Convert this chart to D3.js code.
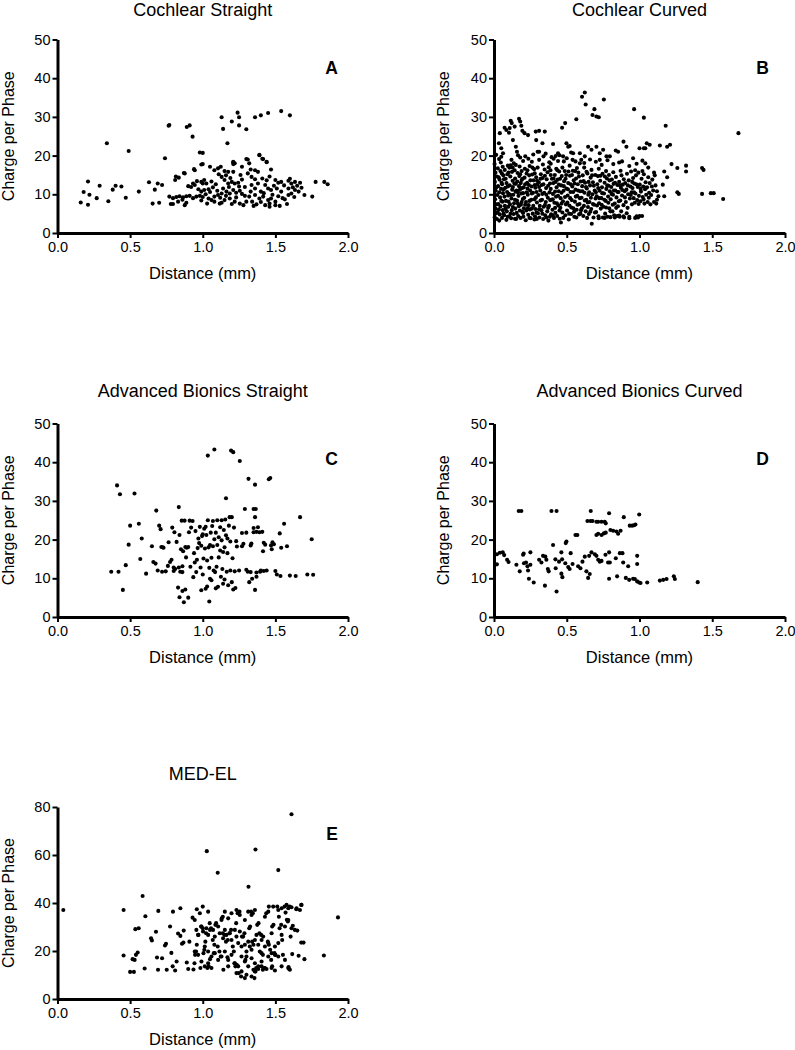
<!DOCTYPE html>
<html><head><meta charset="utf-8">
<script src="https://cdn.jsdelivr.net/npm/d3@7"></script>
<style>
html,body{margin:0;padding:0;background:#fff;}
svg text{font-family:"Liberation Sans",Arial,sans-serif;fill:#000;}
</style></head>
<body>
<svg id="chart" width="795" height="1050"></svg>
<script>
// ---------------- DATA ----------------
const xTickValues = [0, 0.5, 1.0, 1.5, 2.0];
const yTicks50 = [0, 10, 20, 30, 40, 50];
const yTicks80 = [0, 20, 40, 60, 80];
const titles = ["Cochlear Straight", "Cochlear Curved", "Advanced Bionics Straight", "Advanced Bionics Curved", "MED-EL"];
const letters = ["A", "B", "C", "D", "E"];
const xLabel = "Distance (mm)";
const yLabel = "Charge per Phase";

const pointsA = [
[0.34,23.2],[0.49,21.2],[0.74,19.3],[0.765,27.7],[0.77,27.9],[0.89,27.4],[0.91,27.8],[0.93,24.9],[0.98,20.8],[1.0,17.8],[1.13,29.9],[1.14,26.9],[1.17,23.2],[1.2,28.8],[1.24,31.1],[1.25,29.9],[1.25,27.8],[1.30,26.8],[1.36,29.9],[1.40,30.4],[1.45,31.0],[1.54,31.5],[1.60,30.4],[1.30,19.1],[1.39,20.2],[1.41,19.2],[1.44,18.3],[1.21,18.2],[1.21,17.8],
[0.16,7.9],[0.18,10.6],[0.21,7.3],[0.21,13.3],[0.22,9.9],[0.27,9.0],[0.29,12.2],[0.35,8.2],[0.38,11.2],[0.40,12.2],[0.44,12.0],[0.47,9.1],[0.56,10.7],[0.63,13.1],[0.655,7.6],[0.67,11.2],[0.69,12.8],[0.70,7.8],[0.72,12.4],[0.815,14.6],[0.87,15.5],[0.94,16.5],
[0.77,9.4],[0.78,7.5],[0.795,9.0],[0.818,9.3],[0.84,9.5],[0.864,9.2],[0.887,9.5],[0.91,9.6],[0.933,9.0],[0.956,9.4],[0.98,9.6],[1.0,9.3],[0.81,13.7],[0.835,14.3],[0.876,15.4],[0.795,7.5],[0.876,7.2],[0.887,7.8],[0.92,11.9],[0.945,12.4],[0.933,12.8],[0.945,16.2],[0.99,17.7],[1.0,20.7],[0.99,13.2],[1.01,13.7],[1.025,12.8],[1.0,12.8],[0.99,10.7],[1.01,11.1],[1.04,11.3],[1.04,8.9],[1.06,8.5],[1.08,9.4],[1.105,9.8],[1.13,10.2],[1.05,17.1],[1.08,16.2],[1.105,16.7],[1.124,17.1],[1.15,16.0],[1.175,15.8],[1.13,14.5],[1.15,13.7],[1.175,12.8],[1.2,13.2],[1.22,12.8],[1.244,13.0],[1.14,11.5],[1.163,10.7],[1.186,10.2],[1.21,11.1],[1.23,10.4],[1.255,10.9],[1.08,8.1],[1.117,7.6],[1.15,8.5],[1.186,8.9],[1.22,8.1],[1.255,7.6],[1.28,7.2],[1.30,8.1],[1.21,18.4],[1.22,18.0],[1.27,17.1],[1.31,19.0],[1.32,18.0],[1.39,20.1],[1.416,19.1],[1.44,18.4],[1.47,16.4],[1.31,15.4],[1.336,14.5],[1.36,16.2],[1.38,15.8],[1.336,12.4],[1.36,11.5],[1.38,12.8],[1.40,10.7],[1.43,12.4],[1.45,11.5],[1.47,11.1],[1.32,9.4],[1.36,9.8],[1.39,8.9],[1.416,9.4],[1.45,8.5],[1.47,8.9],[1.5,8.1],[1.53,7.0],[1.43,7.2],[1.46,6.8],[1.5,7.2],[1.5,13.7],[1.52,13.0],[1.54,13.2],[1.59,13.5],[1.61,12.8],[1.635,13.2],[1.67,13.0],[1.51,11.5],[1.54,10.7],[1.59,11.5],[1.61,10.2],[1.635,11.1],[1.565,8.7],[1.59,9.8],[1.66,10.7],[1.70,9.8],[1.754,9.4],[1.777,13.2],[1.837,13.2],[1.86,12.6],
[1.02,10.0],[1.05,10.6],[1.07,11.8],[1.09,12.6],[1.1,10.9],[1.12,9.1],[1.16,9.6],[1.18,11.9],[1.19,14.2],[1.23,9.2],[1.25,12.0],[1.27,10.1],[1.27,13.8],[1.29,9.6],[1.29,11.9],[1.33,10.7],[1.34,8.1],[1.37,7.4],[1.4,8.0],[1.42,10.3],[1.44,13.6],[1.48,9.9],[1.49,12.2],[1.52,9.5],[1.56,12.3],[1.58,7.5],[1.6,14.0],[1.62,11.8],[1.65,12.2],[1.68,11.7],[0.96,13.4],[0.97,11.3],[0.9,12.1],[0.86,8.6],[0.83,8.1],[1.06,13.3],[1.11,15.2],[1.16,14.9],[1.21,15.8],[1.26,15.0],[1.33,16.4],[1.36,13.9],[1.41,14.1],[1.46,14.6],[1.2,7.5],[1.13,7.8],[1.03,7.6],[0.99,8.4],[1.35,7.0],[1.46,7.6],[1.55,9.0],[1.63,9.3]
];

const pointsB = [
// sparse upper points
[0.605,35.2],[0.624,36.3],[0.63,33.2],[0.755,34.5],[0.69,32.0],[0.677,30.5],[0.704,30.1],[0.72,29.9],[0.566,29.4],[0.468,27.2],[0.489,28.4],[0.963,32.0],[1.03,29.8],[1.18,27.7],[1.68,25.8],[1.14,22.6],[1.19,22.3],[1.21,22.8],[1.22,17.8],[1.26,16.8],[1.32,17.4],[1.32,15.9],[1.43,16.8],[1.44,16.3],[1.43,10.1],[1.49,10.3],[1.51,10.3],[1.575,8.8],[1.26,10.5],[1.27,10.1],[1.07,22.8],[1.05,23.2],[1.0,21.9],[1.03,21.9],[1.04,21.9],[1.04,18.0],[0.956,19.3],[0.91,22.3],[0.89,23.6],[0.837,21.3],[0.853,21.0],[0.86,18.2],[1.17,15.9],[1.19,14.4],[1.16,12.5],[1.13,9.5],[1.12,8.6],[1.17,9.5],
[0.04,25.8],[0.034,23.2],[0.05,21.9],[0.062,20.6],[0.073,27.2],[0.085,26.6],[0.108,27.1],[0.115,29.0],[0.122,28.4],[0.142,27.5],[0.103,25.9],[0.172,29.5],[0.18,28.8],[0.188,27.7],[0.195,26.4],[0.21,25.8],[0.234,25.3],[0.13,24.0],[0.15,22.3],[0.158,21.0],[0.287,26.2],[0.31,26.4],[0.349,26.2],[0.29,24.0],[0.333,23.2],[0.31,21.0],[0.406,23.0],[0.424,19.9],[0.44,20.6],[0.475,19.8],[0.51,22.3],[0.544,20.6],[0.59,20.6],[0.498,23.2],[0.52,22.5],[0.647,22.3],[0.67,21.5],[0.704,22.3],[0.727,20.6],[0.75,21.5],[0.773,19.8],[0.796,19.8],[0.727,18.9],[0.6,18.9],[0.624,19.8],[0.59,18.0],
// dense body
[0.005,4.1],[0.01,6.3],[0.008,8.7],[0.012,10.9],[0.006,13.2],[0.01,15.6],[0.004,17.8],[0.02,3.6],[0.025,5.4],[0.03,7.5],[0.022,9.8],[0.028,12.1],[0.032,14.4],[0.026,16.7],[0.035,19.1],[0.04,4.8],[0.045,6.9],[0.042,9.2],[0.048,11.4],[0.038,13.8],[0.044,16.0],[0.047,18.2],
[0.055,3.9],[0.06,5.9],[0.058,8.1],[0.062,10.3],[0.056,12.6],[0.064,14.9],[0.06,17.1],[0.07,4.6],[0.075,7.0],[0.072,9.4],[0.078,11.7],[0.068,13.9],[0.074,16.3],[0.085,3.4],[0.088,5.6],[0.082,8.3],[0.09,10.6],[0.086,12.9],[0.092,15.2],[0.095,17.4],[0.098,6.8],[0.097,9.7],
[0.105,4.3],[0.11,7.4],[0.102,10.1],[0.108,12.3],[0.112,14.6],[0.106,16.9],[0.118,3.8],[0.122,5.9],[0.12,8.9],[0.125,11.2],[0.128,13.5],[0.124,15.8],[0.135,4.9],[0.138,7.7],[0.132,9.9],[0.14,12.8],[0.142,16.2],[0.146,6.3],[0.148,10.7],[0.145,14.1],[0.136,18.0],
[0.152,3.6],[0.156,5.2],[0.158,8.4],[0.154,11.0],[0.16,13.3],[0.162,15.5],[0.166,4.4],[0.17,6.9],[0.168,9.6],[0.172,12.1],[0.174,14.7],[0.176,17.2],[0.182,3.9],[0.185,7.3],[0.188,10.2],[0.184,12.9],[0.19,16.0],[0.195,5.5],[0.198,8.8],[0.192,11.6],[0.196,14.0],[0.18,19.5],
[0.202,4.2],[0.205,6.4],[0.208,9.1],[0.204,11.8],[0.21,14.3],[0.212,16.6],[0.218,3.3],[0.222,5.8],[0.22,8.0],[0.225,10.5],[0.228,13.0],[0.224,15.4],[0.235,4.7],[0.238,7.2],[0.232,9.9],[0.24,12.4],[0.242,14.9],[0.246,6.1],[0.248,11.0],[0.245,17.3],[0.215,19.8],[0.236,19.2],
[0.252,3.8],[0.256,8.6],[0.258,12.0],[0.262,15.1],[0.266,5.0],[0.27,7.0],[0.268,10.4],[0.272,13.6],[0.276,16.5],[0.282,4.3],[0.285,6.2],[0.288,9.2],[0.284,11.7],[0.29,14.4],[0.295,7.9],[0.298,12.6],[0.294,3.6],[0.3,16.9],[0.26,18.4],
[0.302,5.1],[0.305,9.8],[0.308,13.1],[0.312,4.0],[0.315,7.0],[0.318,11.0],[0.322,15.2],[0.326,5.9],[0.33,8.6],[0.328,12.4],[0.334,14.2],[0.338,3.6],[0.342,6.8],[0.345,10.4],[0.348,16.4],[0.336,17.7],[0.31,18.9],[0.34,19.8],
[0.352,4.6],[0.356,8.0],[0.358,11.6],[0.362,13.9],[0.366,5.6],[0.37,9.1],[0.368,15.7],[0.374,3.2],[0.378,7.0],[0.382,10.5],[0.385,12.8],[0.388,16.2],[0.392,4.8],[0.395,8.6],[0.398,14.0],[0.38,18.3],[0.396,19.6],
[0.402,6.0],[0.405,10.1],[0.408,12.9],[0.412,3.9],[0.415,7.8],[0.418,15.0],[0.422,5.2],[0.426,9.4],[0.43,11.8],[0.428,16.6],[0.434,4.4],[0.438,13.8],[0.442,7.1],[0.445,10.8],[0.448,15.9],[0.44,18.6],[0.41,19.2],
[0.452,3.7],[0.456,6.5],[0.458,9.0],[0.462,12.3],[0.466,14.7],[0.47,5.3],[0.474,8.2],[0.478,10.9],[0.482,13.4],[0.486,16.0],[0.49,4.6],[0.494,7.4],[0.498,11.5],[0.496,15.0],[0.46,2.7],[0.48,18.5],
[0.502,5.8],[0.506,9.7],[0.51,12.9],[0.514,3.5],[0.518,7.1],[0.522,14.8],[0.526,10.6],[0.53,4.9],[0.534,8.5],[0.538,12.0],[0.542,16.1],[0.546,6.4],[0.548,13.6],[0.52,17.4],[0.54,18.9],
[0.552,4.2],[0.556,8.1],[0.56,11.2],[0.564,14.1],[0.568,6.0],[0.572,9.6],[0.576,12.6],[0.58,15.6],[0.585,4.8],[0.588,7.5],[0.592,10.8],[0.596,13.3],[0.598,5.9],[0.57,16.8],
[0.602,9.1],[0.606,12.1],[0.61,14.9],[0.614,4.4],[0.618,7.0],[0.622,10.4],[0.626,13.0],[0.63,5.6],[0.634,8.6],[0.638,11.5],[0.642,15.4],[0.646,6.7],[0.648,9.9],[0.64,3.9],[0.62,16.9],
[0.652,4.9],[0.656,8.0],[0.66,12.3],[0.664,14.3],[0.668,6.2],[0.672,2.4],[0.676,10.0],[0.68,13.1],[0.684,4.0],[0.688,7.3],[0.692,11.0],[0.696,15.0],[0.698,8.9],[0.67,16.3],
[0.702,5.4],[0.706,9.5],[0.71,12.6],[0.714,14.7],[0.718,4.3],[0.722,7.7],[0.726,10.9],[0.73,13.5],[0.734,6.3],[0.738,9.0],[0.742,11.8],[0.746,15.3],[0.748,4.0],[0.72,16.6],
[0.752,6.8],[0.756,10.2],[0.76,13.0],[0.764,5.0],[0.768,8.3],[0.772,11.4],[0.776,14.1],[0.78,4.2],[0.784,9.4],[0.788,12.2],[0.792,6.4],[0.796,10.8],[0.77,16.0],[0.79,15.0],
[0.802,8.7],[0.806,11.9],[0.81,13.8],[0.814,5.6],[0.818,9.9],[0.822,12.7],[0.826,4.6],[0.83,7.6],[0.834,11.0],[0.838,14.5],[0.842,9.2],[0.846,4.4],[0.848,12.4],[0.82,15.7],
[0.852,6.9],[0.856,10.6],[0.86,13.2],[0.864,4.2],[0.868,8.4],[0.872,11.7],[0.876,14.9],[0.88,9.7],[0.885,12.5],[0.89,7.2],[0.894,4.0],[0.898,10.8],[0.87,16.1],
[0.902,12.9],[0.906,8.0],[0.91,11.2],[0.914,15.3],[0.918,6.5],[0.922,10.0],[0.926,13.6],[0.93,3.8],[0.934,8.9],[0.938,12.0],[0.942,15.9],[0.946,10.5],[0.948,7.4],
[0.952,11.6],[0.956,14.2],[0.96,9.0],[0.964,12.8],[0.968,7.8],[0.972,10.2],[0.976,14.9],[0.98,4.3],[0.984,8.5],[0.988,11.9],[0.992,15.6],[0.996,9.6],[0.99,4.0],[0.97,16.2],
[1.002,12.5],[1.006,8.2],[1.01,10.7],[1.014,14.0],[1.018,4.4],[1.022,9.3],[1.026,12.0],[1.03,15.2],[1.034,7.6],[1.038,11.3],[1.042,13.1],[1.046,9.9],[1.02,16.0],
[1.052,11.8],[1.056,8.0],[1.06,14.4],[1.066,10.4],[1.07,12.9],[1.075,7.4],[1.08,9.8],[1.088,13.8],[1.094,11.0],[1.1,8.0],[1.105,14.9],[1.11,12.3],[1.115,7.6],[1.12,10.8],
[0.015,20.2],[0.05,19.7],[0.12,18.9],[0.165,20.1],[0.2,18.6],[0.27,20.3],[0.3,21.0],[0.355,20.5],[0.39,17.9],[0.45,20.1],[0.5,19.3],[0.53,20.8],[0.56,18.5],[0.62,18.1],[0.66,19.0],[0.7,18.4],[0.74,17.6],[0.78,18.8],[0.82,17.8],[0.88,18.5],[0.93,17.3],[0.98,17.9],[1.02,18.7],[1.06,16.9],[1.1,15.6],
[0.72,3.8],[0.76,3.9],[0.8,4.1],[0.83,4.0],[0.86,4.5],[0.89,4.3],[0.93,4.2],[0.97,3.9],[1.0,4.4],
// additional fill of the dense body
[0.015,5.1],[0.018,7.4],[0.016,11.8],[0.02,14.6],[0.036,3.2],[0.034,6.1],[0.036,10.5],[0.05,8.3],[0.052,13.0],[0.054,15.4],[0.066,5.0],[0.066,11.3],[0.08,14.0],[0.08,6.3],[0.094,4.2],[0.094,12.0],[0.1,8.1],[0.1,15.6],
[0.114,5.0],[0.116,9.8],[0.114,17.5],[0.13,6.7],[0.13,11.9],[0.128,16.9],[0.144,3.7],[0.144,8.6],[0.15,12.7],[0.15,17.6],[0.164,7.6],[0.164,10.5],[0.178,5.8],[0.178,11.2],[0.18,15.2],[0.19,8.0],[0.19,13.7],
[0.2,5.2],[0.2,10.3],[0.214,7.3],[0.214,12.6],[0.23,6.4],[0.23,11.5],[0.23,16.2],[0.244,3.9],[0.244,8.3],[0.25,13.6],[0.26,6.3],[0.26,10.2],[0.264,16.9],[0.278,3.5],[0.278,8.7],[0.28,12.4],[0.28,15.4],[0.292,5.3],[0.292,10.6],[0.296,13.5],
[0.31,6.1],[0.31,11.9],[0.32,8.4],[0.32,14.0],[0.332,5.0],[0.332,10.1],[0.34,12.6],[0.35,7.2],[0.35,14.8],[0.36,4.0],[0.36,9.9],[0.372,6.5],[0.372,12.2],[0.376,17.0],[0.384,4.2],[0.386,8.5],[0.39,11.4],[0.39,15.0],
[0.404,4.6],[0.404,8.7],[0.41,14.1],[0.42,6.5],[0.42,10.7],[0.424,13.2],[0.432,7.7],[0.436,16.2],[0.44,9.6],[0.446,12.5],[0.45,5.8],[0.454,14.0],[0.464,7.6],[0.464,10.4],[0.47,16.9],[0.476,3.9],[0.48,12.1],[0.488,9.3],[0.492,14.0],
[0.504,7.9],[0.508,11.3],[0.512,15.9],[0.516,5.0],[0.524,9.0],[0.528,12.6],[0.532,6.6],[0.536,15.0],[0.544,10.6],[0.55,5.5],[0.554,12.8],[0.558,16.0],[0.562,9.4],[0.566,4.0],[0.574,7.3],[0.578,11.0],[0.584,14.6],[0.59,9.0],[0.594,5.0],
[0.604,6.4],[0.608,10.8],[0.616,13.4],[0.624,8.4],[0.632,11.9],[0.636,15.8],[0.644,7.9],[0.65,13.2],[0.654,10.5],[0.662,5.5],[0.666,9.1],[0.674,14.9],[0.68,7.5],[0.686,12.2],[0.694,5.3],[0.7,10.5],[0.708,7.1],[0.716,11.6],[0.724,9.0],[0.732,14.8],
[0.74,7.3],[0.744,10.3],[0.758,8.6],[0.762,14.6],[0.77,6.6],[0.778,12.3],[0.786,7.8],[0.794,13.6],[0.8,5.6],[0.808,10.1],[0.816,7.3],[0.824,11.0],[0.832,13.0],[0.84,6.5],[0.85,10.6],[0.858,8.2],[0.866,12.3],[0.874,5.6],[0.882,11.1],[0.892,13.9],[0.9,9.2],[0.912,5.1],[0.92,12.3],[0.94,9.8],[0.95,13.2],[0.962,10.5],[0.978,12.6],[0.994,7.5],[1.008,11.4],[1.028,8.7],[1.044,11.7],[1.064,9.1],[1.085,12.0]
];

const pointsC = [
[0.37,11.7],[0.42,11.7],[0.41,34.0],[0.43,31.7],[0.45,7.0],[0.47,13.4],[0.49,18.7],[0.50,23.6],[0.53,31.9],
[0.56,24.1],[0.57,15.0],[0.58,20.3],[0.61,11.2],[0.65,18.3],
[0.66,14.2],[0.675,13.8],[0.68,27.5],[0.69,12.0],[0.70,23.6],[0.71,22.7],[0.715,18.1],[0.72,11.7],[0.725,18.0],[0.73,17.9],[0.745,11.8],[0.76,13.2],[0.765,19.3],
[0.775,14.2],[0.785,14.8],[0.79,23.1],[0.80,11.9],[0.80,12.8],[0.805,21.9],[0.81,12.4],[0.82,19.4],[0.83,7.6],[0.835,28.4],[0.835,12.8],[0.84,21.2],[0.84,5.1],[0.845,11.7],[0.85,17.5],[0.855,24.9],[0.86,6.7],[0.86,13.1],[0.86,11.6],[0.865,17.0],[0.87,3.8],[0.875,24.9],[0.88,18.1],[0.88,7.1],[0.885,15.4],[0.89,17.9],
[0.9,5.0],[0.9,18.1],[0.905,21.9],[0.91,24.9],[0.915,13.0],[0.92,23.1],[0.93,24.8],[0.935,10.3],[0.94,16.5],[0.945,14.1],[0.95,22.2],[0.955,11.6],[0.96,14.8],[0.965,17.8],[0.97,20.3],[0.975,19.1],[0.98,23.3],[0.985,12.8],[0.99,6.9],[0.99,18.4],[0.995,20.9],[1.0,21.4],
[1.0,11.0],[1.005,15.1],[1.01,22.8],[1.015,17.7],[1.02,7.3],[1.02,23.3],[1.025,21.2],[1.03,7.9],[1.03,14.6],[1.035,25.0],[1.035,41.7],[1.04,18.0],[1.045,4.0],[1.045,12.7],[1.05,9.9],[1.05,18.6],[1.055,21.8],[1.06,9.5],[1.06,15.3],[1.065,23.5],[1.07,24.8],[1.07,18.3],[1.075,12.0],[1.08,43.3],[1.08,20.1],[1.085,11.6],[1.09,21.8],[1.09,7.4],[1.095,13.0],[1.1,18.6],[1.1,25.0],
[1.105,7.8],[1.11,15.4],[1.11,20.6],[1.12,23.2],[1.12,17.2],[1.125,10.4],[1.13,19.8],[1.13,25.0],[1.135,12.4],[1.14,16.8],[1.14,8.6],[1.145,22.5],[1.15,18.0],[1.15,9.7],[1.155,25.2],[1.16,21.1],[1.16,30.7],[1.165,11.7],[1.17,16.5],[1.17,20.3],[1.175,8.2],[1.18,23.6],[1.185,25.8],[1.19,12.0],[1.19,19.5],[1.195,43.0],[1.2,25.8],[1.2,9.0],[1.205,15.2],[1.21,42.6],[1.21,7.1],[1.215,23.1],[1.22,11.8],[1.225,7.5],[1.23,19.6],
[1.235,18.2],[1.25,12.0],[1.255,40.3],[1.27,21.7],[1.27,18.3],[1.28,18.9],[1.29,27.9],[1.3,12.2],[1.3,21.8],[1.31,11.7],[1.315,35.7],[1.32,9.0],[1.33,18.5],[1.33,11.6],[1.335,19.0],[1.34,9.9],[1.35,27.9],[1.35,23.0],[1.35,21.9],[1.36,7.0],[1.36,25.8],[1.36,34.2],[1.365,27.9],[1.37,11.5],[1.37,22.0],[1.37,10.4],[1.38,23.2],[1.39,21.9],[1.395,11.7],[1.4,12.0],
[1.41,22.0],[1.415,17.0],[1.42,11.9],[1.42,19.2],[1.43,18.7],[1.44,12.0],[1.455,35.6],[1.465,35.9],[1.47,18.5],[1.475,17.5],[1.48,19.3],[1.49,18.8],[1.5,11.9],[1.51,11.0],[1.53,21.6],[1.535,10.6],[1.54,17.9],[1.56,24.1],[1.58,18.3],[1.6,10.7],[1.64,10.6],[1.67,25.8],[1.72,11.0],[1.75,20.1],[1.76,10.9]
];

const pointsD = [
[0.02,16.2],[0.02,13.6],[0.04,16.6],[0.06,16.7],[0.07,16.0],[0.09,14.8],[0.1,14.2],
[0.154,13.5],[0.17,27.4],[0.188,27.4],[0.177,11.8],[0.2,16.1],[0.204,16.4],[0.206,13.9],[0.22,14.1],[0.23,13.1],[0.234,12.0],[0.24,9.9],[0.25,16.7],[0.25,13.5],[0.273,8.9],
[0.31,14.8],[0.326,14.1],[0.337,15.8],[0.353,15.6],[0.35,8.1],[0.36,14.8],[0.37,12.4],[0.376,11.8],[0.395,27.4],[0.43,27.4],[0.406,18.6],[0.422,14.9],[0.424,12.6],[0.43,6.6],
[0.447,14.3],[0.463,16.7],[0.468,14.9],[0.463,11.2],[0.47,10.3],[0.493,19.1],[0.498,19.5],[0.49,13.9],[0.51,12.9],[0.52,12.4],[0.527,16.5],[0.54,13.7],
[0.56,21.2],[0.573,21.2],[0.578,13.1],[0.594,12.6],[0.608,14.3],[0.624,15.6],[0.635,11.8],[0.647,10.1],[0.658,11.1],[0.642,24.8],[0.663,24.8],[0.677,24.8],[0.665,27.4],
[0.654,15.8],[0.67,16.7],[0.693,16.2],[0.704,15.8],[0.716,14.8],[0.727,14.3],[0.739,14.5],[0.704,21.2],[0.716,21.5],[0.739,21.2],[0.755,21.6],[0.768,21.8],[0.704,24.6],[0.716,24.6],[0.739,24.6],[0.761,24.6],[0.768,24.2],
[0.766,16.1],[0.784,14.1],[0.796,14.1],[0.791,26.8],[0.791,16.7],[0.791,9.9],[0.8,22.5],[0.819,22.3],[0.842,22.1],[0.853,21.5],[0.87,22.3],[0.837,15.2],[0.846,10.5],[0.865,16.5],[0.883,16.5],[0.888,14.1],[0.892,25.8],
[0.906,10.1],[0.929,9.6],[0.922,13.1],[0.933,23.6],[0.95,23.6],[0.963,23.7],[0.972,23.9],[0.956,9.9],[0.968,9.8],[0.984,15.8],[0.984,13.7],[0.998,26.5],[0.984,9.2],[0.998,8.9],[1.007,8.8],
[1.053,8.9],[1.14,9.4],[1.163,9.6],[1.186,9.8],[1.236,10.5],[1.243,9.8],[1.4,9.0]
];

const pointsE = [
[0.04,37.1],[0.455,37.1],[0.455,18.1],[0.5,11.3],[0.526,11.3],[0.517,16.6],[0.531,16.3],[0.536,29.1],[0.559,29.5],[0.54,18.4],[0.552,19.4],[0.586,42.9],[0.6,12.7],[0.605,34.5],[0.644,25.3],[0.65,24.4],[0.678,28.0],[0.685,17.3],[0.692,12.2],[0.694,36.7],[0.72,17.0],[0.74,22.3],[0.747,23.0],[0.752,12.2],[0.775,30.2],[0.784,19.2],[0.793,13.6],[0.795,36.4],[0.81,11.9],[0.82,15.6],[0.83,27.3],[0.846,26.3],[0.846,37.8],[0.857,23.0],[0.867,23.5],[0.869,28.5],[0.89,15.2],[0.9,12.5],[0.908,23.9],[0.93,33.9],[0.936,12.3],[0.943,14.9],[0.947,18.4],[0.954,19.8],[0.959,22.6],[0.959,37.4],[0.97,26.7],[0.98,35.7],[0.984,12.9],[0.989,30.2],[1.0,29.5],[1.0,38.5],[1.005,19.1],[1.011,20.5],[1.023,27.4],[1.018,23.9],[1.028,61.6],[1.032,12.9],[1.041,13.6],[1.05,16.6],[1.037,36.4],[1.05,28.8],[1.057,29.5],[1.069,24.6],[1.08,22.6],[1.076,19.1],[1.087,30.9],[1.092,31.6],[1.103,52.6],[1.103,21.9],[1.115,19.8],[1.124,17.7],[1.131,33.6],[1.138,34.3],[1.138,27.4],[1.149,26.7],[1.142,12.2],[1.16,23.9],[1.172,24.6],[1.17,17.4],[1.184,27.4],[1.195,28.8],[1.207,21.9],[1.214,19.8],[1.218,14.9],[1.225,13.6],[1.234,14.3],[1.23,31.6],[1.24,35.7],[1.253,36.4],[1.248,10.8],[1.264,9.4],[1.27,26.0],[1.287,27.4],[1.294,16.3],[1.301,17.7],[1.29,8.7],[1.315,46.8],[1.32,29.5],[1.326,30.2],[1.333,36.4],[1.345,35.7],[1.34,23.9],[1.349,22.6],[1.349,12.2],[1.363,11.5],[1.368,12.9],[1.356,8.7],[1.363,62.3],[1.375,30.9],[1.384,31.6],[1.39,27.4],[1.402,26.7],[1.405,19.1],[1.414,18.4],[1.414,12.2],[1.425,12.9],[1.437,35.7],[1.448,23.9],[1.455,22.6],[1.464,20.5],[1.455,38.5],[1.471,16.3],[1.478,13.6],[1.478,30.2],[1.487,30.9],[1.494,19.1],[1.5,18.4],[1.513,38.5],[1.524,34.3],[1.52,53.7],[1.529,29.5],[1.54,30.9],[1.547,24.6],[1.552,18.4],[1.563,38.5],[1.57,36.0],[1.579,33.0],[1.586,32.3],[1.591,13.3],[1.595,12.5],[1.598,38.5],[1.605,26.0],[1.611,77.0],[1.616,18.7],[1.62,30.5],[1.644,37.4],[1.651,28.5],[1.66,18.0],[1.678,39.2],[1.678,23.5],[1.694,23.5],[1.7,16.6],[1.834,18.1],[1.931,34.0],
[0.945,32.9],[0.956,28.8],[0.968,26.7],[0.991,30.2],[1.002,28.1],[1.025,29.5],[1.037,26.7],[1.048,31.6],[1.071,28.8],[1.083,26.0],[1.106,30.2],[1.117,27.4],[1.129,32.9],[1.14,25.3],[1.152,28.8],[1.163,26.7],[1.175,33.6],[1.186,27.4],[1.198,24.6],[1.221,28.8],[1.232,26.0],[1.244,23.3],[1.255,28.1],[1.267,21.9],[1.278,26.0],[1.29,22.6],[1.301,19.8],[1.313,23.9],[1.324,21.9],[1.336,20.5],[1.359,24.6],[1.37,26.7],[1.382,22.6],[1.393,19.8],[1.405,24.6],[1.416,26.0],[1.428,21.9],[1.451,23.3],[1.474,27.4],[1.497,21.9],[1.52,23.3],[1.543,26.7],[1.566,30.2],[1.589,32.9],[1.611,29.5],[1.634,28.8],
[1.014,21.9],[1.037,19.8],[1.06,17.7],[1.083,19.1],[1.106,16.3],[1.129,17.7],[1.152,19.8],[1.175,16.3],[1.198,18.4],[1.221,14.9],[1.244,13.6],[1.267,17.7],[1.29,15.6],[1.313,13.6],[1.336,17.0],[1.359,14.9],[1.382,13.6],[1.405,15.6],[1.428,12.9],[1.451,17.7],[1.474,19.1],[1.497,18.4],[1.52,17.7],[1.543,13.6],[1.566,16.3],
[0.945,19.8],[0.968,18.4],[0.991,15.6],[1.014,13.6],[1.037,14.9],[1.06,12.9],[1.175,13.6],[1.232,10.8],[1.267,11.5],[1.301,10.1],[1.336,9.4],[1.359,11.5],[1.382,12.5],[1.405,13.6],[1.439,12.5],[1.474,12.9],[1.497,11.9],[1.589,12.9],[1.6,12.2],
[1.152,36.4],[1.198,35.7],[1.232,37.1],[1.255,35.0],[1.29,32.9],[1.313,36.4],[1.336,35.0],[1.359,37.1],[1.428,34.3],[1.451,36.4],[1.485,38.5],[1.52,37.1],[1.543,37.8],[1.577,39.2],[1.589,37.8],[1.611,38.2],[1.646,37.8],[1.68,39.2],[1.669,37.1]
];

// ---------------- LAYOUT ----------------
const panels = [
  {data: pointsA, ymax: 50, yt: yTicks50, x0: 57.5, x1: 348, yTop: 39.5,  yBot: 233, titleY: 16,  ylabX: 14,  letX: 338, letY: 74},
  {data: pointsB, ymax: 50, yt: yTicks50, x0: 494,  x1: 785, yTop: 39.5,  yBot: 233, titleY: 16,  ylabX: 449, letX: 769, letY: 74},
  {data: pointsC, ymax: 50, yt: yTicks50, x0: 57.5, x1: 348, yTop: 423.5, yBot: 617, titleY: 397, ylabX: 14,  letX: 338, letY: 465},
  {data: pointsD, ymax: 50, yt: yTicks50, x0: 494,  x1: 785, yTop: 423.5, yBot: 617, titleY: 397, ylabX: 449, letX: 769, letY: 465},
  {data: pointsE, ymax: 80, yt: yTicks80, x0: 57.5, x1: 348, yTop: 807,   yBot: 999, titleY: 780, ylabX: 14,  letX: 338, letY: 840}
];

const svg = d3.select("#chart");

panels.forEach((p, i) => {
  const g = svg.append("g");
  const x = d3.scaleLinear().domain([0, 2]).range([p.x0, p.x1]);
  const y = d3.scaleLinear().domain([0, p.ymax]).range([p.yBot, p.yTop]);

  // points
  g.append("g").selectAll("circle").data(p.data).join("circle")
    .attr("cx", d => x(d[0])).attr("cy", d => y(d[1]))
    .attr("r", 2.05).attr("fill", "#000");

  // axes
  const xa = g.append("g").attr("transform", `translate(0,${p.yBot})`)
    .call(d3.axisBottom(x).tickValues(xTickValues).tickFormat(d3.format(".1f")).tickSize(5).tickSizeOuter(0).tickPadding(4));
  const ya = g.append("g").attr("transform", `translate(${p.x0},0)`)
    .call(d3.axisLeft(y).tickValues(p.yt).tickFormat(d3.format("d")).tickSize(5).tickSizeOuter(0).tickPadding(2));
  [xa, ya].forEach(a => {
    a.select(".domain").attr("stroke", "#000").attr("stroke-width", 3);
    a.selectAll(".tick line").attr("stroke", "#000").attr("stroke-width", 2);
    a.selectAll(".tick text").attr("font-size", 14.5).attr("fill", "#000")
      .style("font-family", '"Liberation Sans", Arial, sans-serif');
  });

  // title
  g.append("text").attr("x", (p.x0 + p.x1) / 2).attr("y", p.titleY)
    .attr("text-anchor", "middle").attr("font-size", 18).text(titles[i]);

  // x label
  g.append("text").attr("x", (p.x0 + p.x1) / 2).attr("y", p.yBot + 46)
    .attr("text-anchor", "middle").attr("font-size", 16.5).text(xLabel);

  // y label
  g.append("text").attr("transform", `translate(${p.ylabX},${(p.yTop + p.yBot) / 2}) rotate(-90)`)
    .attr("text-anchor", "middle").attr("font-size", 16).text(yLabel);

  // panel letter
  g.append("text").attr("x", p.letX).attr("y", p.letY).attr("text-anchor", "end")
    .attr("font-size", 17.5).attr("font-weight", "bold").text(letters[i]);
});
</script>
</body></html>
